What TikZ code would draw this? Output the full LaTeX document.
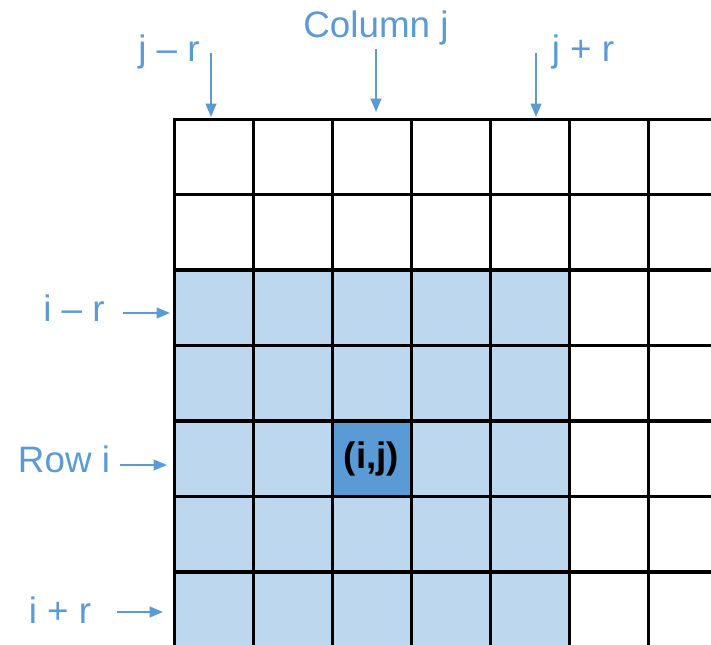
\documentclass[tikz,border=0pt]{standalone}
\usepackage{fontspec}
\setmainfont{Liberation Sans}
\usetikzlibrary{arrows.meta}
\definecolor{lightcell}{HTML}{BDD7EE}
\definecolor{darkcell}{HTML}{5B9BD5}
\definecolor{labelblue}{HTML}{5B9BD5}

\begin{document}
\begin{tikzpicture}[x=0.75pt,y=-0.75pt,>={Triangle[length=10pt,width=8pt]},
        cell/.style={draw,line width=2.25pt,minimum width=59.25pt,
        minimum height=56.6pt,inner sep=0pt,outer sep=0pt},
        lbl/.style={text=labelblue,anchor=base,font=\fontsize{27.6}{33}\selectfont},
        pointer/.style={->,draw=labelblue,line width=1.5pt}]
      \useasboundingbox (0,0) rectangle (711,645);
      \clip (0,0) rectangle (711,645);
      % grid of cells
      \foreach \r in {0,...,6}
        \foreach \c in {0,...,6}
          \node[cell] (c-\r-\c) at ({213.5+79*\c},{156.75+75.5*\r}) {};
      % neighbourhood
      \foreach \r in {2,...,6}
        \foreach \c in {0,...,4}
          \node[cell,fill=lightcell] at (c-\r-\c) {};
      \node[cell,fill=darkcell,font=\fontsize{27.6}{33}\selectfont\bfseries] (ij) at (c-4-2) {(i,j)};
      % labels
      \node[lbl] (colj) at (376,38) {Column j};
      \node[lbl] (jmr) at (169,62) {j -- r};
      \node[lbl] (jpr) at (583,62) {j + r};
      \node[lbl] (imr) at (74,322) {i -- r};
      \node[lbl] (rowi) at (64,473) {Row i};
      \node[lbl] (ipr) at (60,623) {i + r};
      % arrows
      \coordinate (jmr-s) at (211,53);  \coordinate (jmr-e) at (211,117);
      \coordinate (colj-s) at (376,49); \coordinate (colj-e) at (376,112);
      \coordinate (jpr-s) at (536,53);  \coordinate (jpr-e) at (536,117);
      \coordinate (imr-s) at (123,313); \coordinate (imr-e) at (170,313);
      \coordinate (rowi-s) at (120,465); \coordinate (rowi-e) at (167,465);
      \coordinate (ipr-s) at (117,612); \coordinate (ipr-e) at (163,612);
      \draw[pointer] (jmr-s) -- (jmr-e);
      \draw[pointer] (colj-s) -- (colj-e);
      \draw[pointer] (jpr-s) -- (jpr-e);
      \draw[pointer] (imr-s) -- (imr-e);
      \draw[pointer] (rowi-s) -- (rowi-e);
      \draw[pointer] (ipr-s) -- (ipr-e);
    \end{tikzpicture}
\end{document}
